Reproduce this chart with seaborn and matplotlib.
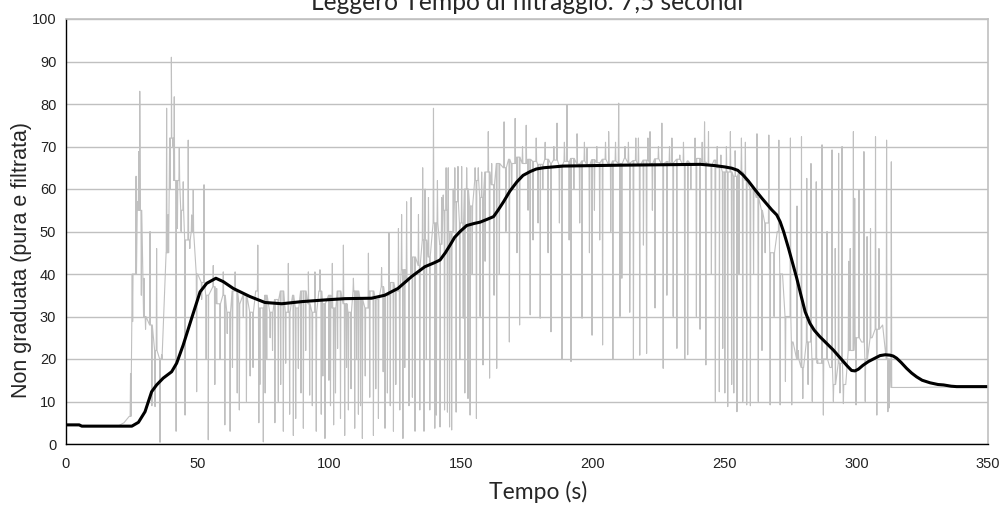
import numpy as np
import pandas as pd
import matplotlib
matplotlib.use("Agg")
import matplotlib.pyplot as plt
import seaborn as sns

# ---- text ----
title = "Leggero Tempo di filtraggio: 7,5 secondi"
x_label = "Tempo (s)"
y_label = "Non graduata (pura e filtrata)"
x_ticks = [0, 50, 100, 150, 200, 250, 300, 350]
y_ticks = [0, 10, 20, 30, 40, 50, 60, 70, 80, 90, 100]

# ---- raw signal: running level of the band (s, value) ----
base_time = [0, 10, 18] + list(range(20, 315, 2)) + [320, 335, 350]
base_value = [
    4.4, 4.3, 4.2,
    4.3, 5.0, 6.5, 40, 55, 30, 28, 22, 20, 45,
    72, 62, 55, 48, 50, 40, 38, 35, 37, 33,
    35, 31, 36, 33, 35, 31, 36, 32, 35, 31,
    34, 36, 31, 35, 32, 36, 33, 31, 36, 33,
    35, 32, 36, 33, 31, 36, 34, 32, 36, 34,
    37, 35, 38, 36, 41, 39, 44, 42, 48, 44,
    52, 47, 55, 50, 57, 52, 60, 56, 62, 58,
    64, 61, 66, 65, 67, 66, 67.5, 66, 67, 66.5,
    65.8, 67, 66, 66.8, 65.6, 66.5, 67.2, 65.9, 66.6, 65.7,
    66.9, 66.2, 67.0, 65.8, 66.6, 66.0, 67.3, 66.1, 66.7, 65.6,
    66.8, 66.0, 67.1, 65.9, 66.5, 66.2, 67.0, 65.8, 66.6, 66.0,
    67.2, 66.3, 65.5, 66.8, 65.0, 64.0, 64, 63, 64, 62,
    60, 58, 55, 52, 45, 50, 40, 30, 24, 20,
    18, 24, 20, 19, 20, 18, 14, 19, 14, 22,
    25, 24, 20, 25, 27, 28, 20, 13.3,
    13.3, 13.4, 13.4,
]

# ---- raw signal: individual spikes (s, value) ----
spikes_start = [
    (24.5, 16.6), (25.3, 28.8), (26.6, 63), (27.2, 57), (27.6, 68.8), (28.0, 83),
    (28.6, 35), (29.6, 39), (30.2, 27), (31.9, 50), (32.6, 9), (33.8, 8.8),
    (34.4, 46), (35.7, 0.4), (36.3, 21), (38.2, 79), (38.8, 54), (39.5, 60),
    (40.0, 91), (40.6, 70), (41.1, 81.7), (41.8, 3), (42.3, 50.7), (43.0, 69.6),
    (43.7, 50), (44.5, 61.7), (45.2, 6.8), (46.4, 71.5), (47.0, 46), (47.7, 53.9),
    (48.3, 59.8), (49.6, 12.3), (51.5, 34), (52.4, 61), (53.2, 20), (54.0, 1),
    (55.9, 42), (56.5, 14), (57.2, 36.6), (58.5, 20), (59.7, 40.5), (60.3, 4.5),
    (61.2, 26), (62.3, 3), (63.2, 18), (64.2, 40.5), (65.0, 12), (65.8, 8),
    (67.3, 30), (68.5, 10), (69.9, 16),
]
spikes_low_plateau = [
    (71.0, 18), (72.8, 46.8), (73.2, 5), (73.6, 14), (74.9, 0.5), (75.6, 12),
    (76.2, 20), (77.5, 25), (78.4, 22), (79.3, 5), (80.6, 10), (81.5, 14),
    (82.5, 3), (83.4, 19), (84.4, 42.5), (84.9, 7), (86.3, 2), (87.2, 6),
    (88.2, 17.8), (89.2, 12), (90.1, 3.7), (91.0, 22), (92.0, 40.5), (92.5, 11.5),
    (93.5, 9), (94.5, 40.5), (95.0, 3), (96.4, 41), (96.9, 7), (97.5, 16),
    (98.3, 1.3), (99.8, 15), (100.4, 9), (101.1, 42.5), (101.6, 4.5), (102.3, 12),
    (103.1, 22.5), (104.2, 6), (105.3, 46.8), (105.8, 2), (106.5, 18), (107.2, 8),
    (108.2, 13), (109.1, 39), (109.6, 3.7), (110.3, 20), (111.0, 7), (111.8, 9),
    (112.5, 1.3), (113.6, 16), (114.8, 44.9), (115.3, 11), (116.7, 2), (117.6, 13),
    (118.6, 6), (119.8, 41.5), (120.4, 17), (121.1, 3.7), (122.0, 12), (122.6, 49.6),
    (123.1, 9), (124.3, 3), (125.2, 14), (126.2, 50.7), (126.7, 8), (127.4, 54),
    (127.9, 1.3), (128.6, 18), (129.3, 57), (130.2, 9), (131.0, 58), (131.5, 11),
    (132.5, 3), (133.8, 54), (134.3, 8), (135.4, 65), (135.9, 3), (136.3, 60),
    (136.8, 20), (137.6, 58), (138.1, 8), (139.5, 79), (140.0, 3.7),
]
spikes_climb = [
    (140.6, 6.8), (141.0, 62), (142.0, 4), (142.6, 58), (143.2, 58.6), (143.7, 8),
    (144.3, 65), (144.8, 7.5), (145.1, 65), (145.6, 4), (146.4, 3.3), (147.0, 60),
    (147.6, 65), (148.1, 7.5), (148.8, 65.3), (149.5, 20), (150.2, 65.3), (150.8, 29.6),
    (151.4, 12), (152.1, 65), (152.6, 10.7), (153.4, 6.8), (154.2, 40), (155.3, 65),
    (155.8, 6), (156.5, 65), (157.2, 30), (157.8, 64), (158.3, 18.6), (159.1, 43),
    (160.3, 73.5), (160.8, 15.5), (161.6, 66), (162.5, 35), (163.5, 17.8), (164.5, 40),
]
spikes_high_plateau = [
    (166.3, 75.8), (167.0, 50), (168.3, 24), (169.2, 60), (170.5, 76.6), (171.2, 45),
    (172.2, 28), (173.3, 70), (174.7, 75), (175.4, 55), (176.2, 30.4), (177.3, 48),
    (178.5, 72), (179.2, 52), (180.0, 29.6), (181.0, 60), (181.9, 71), (183.0, 45),
    (184.1, 26.4), (185.2, 70), (186.4, 75.5), (187.3, 52), (188.3, 20), (189.2, 71),
    (190.2, 79.8), (191.0, 48), (191.7, 19.4), (192.8, 60), (194.0, 73), (195.0, 52),
    (195.9, 29.6), (196.8, 71), (197.8, 69.6), (198.7, 45), (199.7, 25.6), (200.6, 55),
    (201.5, 70), (202.6, 48), (203.7, 23.3), (204.8, 71), (206.0, 73.5), (206.8, 50),
    (207.6, 20), (208.6, 71), (209.8, 80.2), (210.3, 30), (211.0, 39), (212.2, 70),
    (213.5, 71), (214.0, 31), (215.4, 20), (216.3, 72), (217.3, 72), (217.8, 20.9),
    (219.2, 46.8), (220.4, 21.3), (220.9, 72), (221.7, 73.5), (222.6, 55), (223.6, 32),
    (224.9, 70), (226.2, 75.5), (226.7, 17.8), (228.1, 35), (229.1, 70), (230.0, 72),
    (230.5, 30), (231.9, 22.5), (233.0, 68), (234.4, 71), (234.9, 20), (236.0, 21),
    (237.2, 60), (238.8, 72), (239.3, 30), (240.7, 27), (241.5, 71), (242.4, 75.8),
    (242.9, 18.6), (243.9, 73.5), (245.0, 40), (246.5, 10), (247.2, 70), (248.0, 12.3),
    (248.6, 68), (249.3, 22.5), (250.1, 12), (250.7, 70), (251.2, 8.8), (252.2, 73.5),
    (252.7, 14), (253.5, 12), (254.0, 69), (254.7, 7.6), (255.5, 40),
]
spikes_pulses = [
    (256.4, 72), (256.9, 10), (257.9, 71), (258.4, 9.2), (259.8, 9), (261.0, 40),
    (262.3, 73), (262.8, 10), (264.2, 22), (265.4, 45), (266.8, 72.7), (267.3, 9.2),
    (268.8, 30), (270.6, 71.5), (271.1, 9.2), (273.1, 14.7), (275.0, 72), (275.5, 9.2),
    (277.5, 56), (278.0, 22), (279.2, 72.3), (279.7, 10.7), (281.2, 62.5), (281.7, 14),
    (282.8, 66), (283.3, 10), (284.8, 61.7), (285.3, 20), (287.0, 70.4), (287.5, 6.8),
    (288.9, 50), (290.8, 69.2), (291.3, 10), (292.0, 46), (293.3, 68.4), (293.8, 12),
    (294.6, 70), (295.1, 9.5), (297.1, 43), (297.7, 46), (298.9, 73.5), (299.4, 57.8),
    (299.9, 9.2), (301.0, 59.8), (302.9, 68.8), (303.4, 10), (304.1, 48.8), (305.4, 50.7),
    (307.3, 72.3), (307.8, 6.8), (308.6, 46), (311.5, 71.5), (312.0, 7.6), (312.5, 8.5),
    (313.3, 66.4),
]

# ---- filtered signal (s, value) ----
filtered_time = [
    0, 5, 6, 25, 27.5, 30, 32.5, 34.4, 36.9, 40.1, 42, 44.5, 47.7, 50.9, 53.4,
    56.9, 59.7, 63.5, 69.8, 75.5, 81.9, 89.5, 98.3, 105.9, 116, 121, 126, 131.2,
    136.2, 140, 142, 144, 145.8, 147.5, 149.6, 152.1, 155, 157.2, 160, 162.3, 164,
    166.1, 168.5, 171.2, 173.5, 176.2, 178.5, 181.3, 188.8, 210, 241, 246.4, 250,
    252.7, 255, 257, 259, 261.6, 264.2, 267.9, 269.8, 271.1, 272.4, 274.3, 277.4,
    279, 280.6, 282.4, 284, 286.1, 291.3, 295.1, 296.5, 298.2, 299.5, 300.8, 302.5,
    304.6, 309, 311, 312.8, 314, 315.3, 317, 319.1, 321, 322.9, 325, 328, 331,
    333.1, 336, 338.1, 350,
]
filtered_value = [
    4.5, 4.5, 4.2, 4.2, 5.1, 7.6, 12.3, 13.9, 15.5, 17, 19, 23.3, 29.6, 35.8, 37.8,
    39, 38.2, 36.6, 34.7, 33.3, 33.0, 33.5, 33.9, 34.2, 34.3, 35, 36.6, 39.4,
    41.7, 42.7, 43.3, 45, 46.8, 48.6, 50, 51.4, 51.9, 52.2, 52.9, 53.5, 55,
    57, 59.5, 61.7, 63.2, 64.1, 64.7, 65, 65.4, 65.6, 65.8, 65.5, 65.2,
    64.9, 64.4, 63.3, 61.9, 59.8, 57.8, 55.1, 53.9, 52.3, 50, 46, 39,
    35, 31.1, 28.4, 26.8, 25.3, 22.1, 19.4, 18.4, 17.3, 17.2, 17.6, 18.5,
    19.4, 20.8, 21.0, 20.9, 20.7, 20.2, 19.2, 17.8, 16.7, 15.8, 15.0, 14.4, 14.0,
    13.9, 13.6, 13.5, 13.5,
]

# ---- assemble the raw trace: each spike leaves the band level and returns to it ----
spikes = np.array(spikes_start + spikes_low_plateau + spikes_climb
                  + spikes_high_plateau + spikes_pulses)
b_t = np.asarray(base_time, dtype=float)
b_v = np.asarray(base_value, dtype=float)
level = b_v[np.abs(b_t[None, :] - spikes[:, :1]).argmin(axis=1)]
half = 0.15
spike_t = np.concatenate([spikes[:, 0] - half, spikes[:, 0], spikes[:, 0] + half])
spike_v = np.concatenate([level, spikes[:, 1], level])
raw = pd.DataFrame({"t": np.concatenate([b_t, spike_t]),
                    "v": np.concatenate([b_v, spike_v])})
raw = raw.sort_values("t", kind="stable").reset_index(drop=True)
filt = pd.DataFrame({"t": filtered_time, "v": filtered_value})

# ---- style ----
sns.set_style("white")
plt.rcParams["font.family"] = ["Liberation Sans", "DejaVu Sans"]

W, H = 1003, 512
fig = plt.figure(figsize=(W / 100, H / 100), dpi=100)
ax = fig.add_axes([66 / W, 68 / H, 922 / W, 425 / H])

grey = "#c0c0c0"
sns.lineplot(data=raw, x="t", y="v", estimator=None, sort=False,
             color=grey, linewidth=0.8, ax=ax)
sns.lineplot(data=filt, x="t", y="v", estimator=None, sort=False,
             color="black", linewidth=2.2, ax=ax)

ax.set_xlim(0, 350)
ax.set_ylim(0, 100)
ax.set_xticks(x_ticks)
ax.set_yticks(y_ticks)
ax.set_xlabel("")
ax.set_ylabel("")
ax.yaxis.grid(True, color=grey, linewidth=1)
ax.xaxis.grid(False)
ax.set_axisbelow(True)

for side in ("left", "bottom"):
    ax.spines[side].set_color("black")
    ax.spines[side].set_linewidth(1)
for side in ("top", "right"):
    ax.spines[side].set_color(grey)
    ax.spines[side].set_linewidth(1.2)

ax.tick_params(axis="both", which="major", direction="out", length=4, width=1,
               color="black", labelsize=10.5, labelcolor="#222222", pad=3)
ax.tick_params(axis="x", pad=5)

fig.text(538 / W, 1 - 492 / H, x_label, ha="center", va="center",
         fontsize=16.5, family=["Lato", "DejaVu Sans"])
fig.text(22 / W, 1 - 260 / H, y_label, rotation=90, ha="center", va="center",
         fontsize=15.5)
fig.text(527 / W, 1 - 10 / H, title, ha="center", va="baseline",
         fontsize=17.7, family=["Lato", "DejaVu Sans"])

fig.savefig("out.png", dpi=100)
